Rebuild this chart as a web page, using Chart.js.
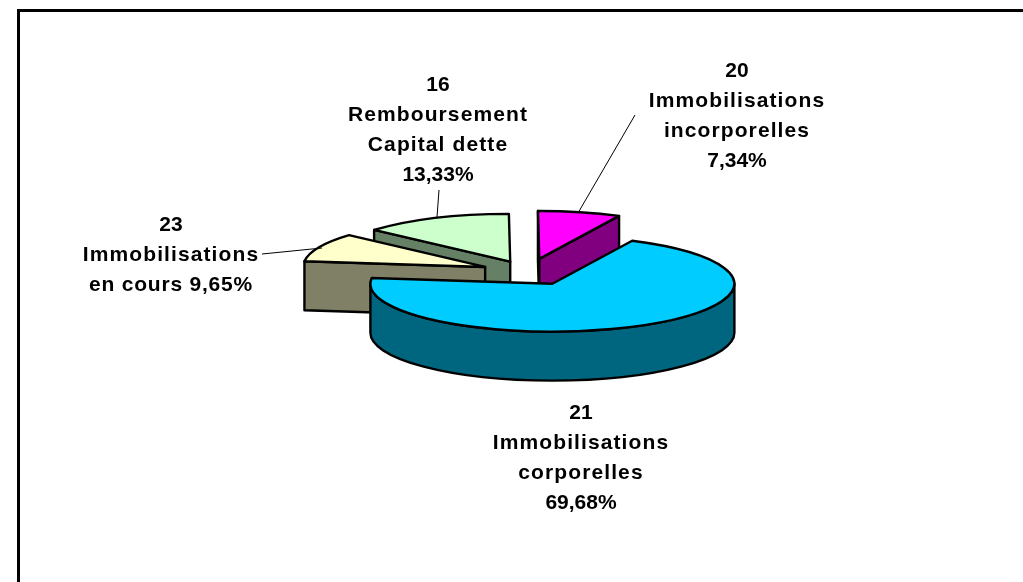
<!DOCTYPE html>
<html>
<head>
<meta charset="utf-8">
<style>html,body{margin:0;padding:0;background:#fff}canvas{display:block}</style>
<script src="https://cdn.jsdelivr.net/npm/chart.js@4"></script>
</head>
<body>
<canvas id="c" width="1023" height="582"></canvas>
<script>
// Data
const codes = ['21', '23', '16', '20'];
const names = [['Immobilisations', 'corporelles'], ['Immobilisations', 'en cours'], ['Remboursement', 'Capital dette'], ['Immobilisations', 'incorporelles']];
const percents = [69.68, 9.65, 13.33, 7.34];

// Styles
const topColors = ['#00CCFF', '#FFFFCC', '#CCFFCC', '#FF00FF'];
const wallColors = ['#006680', '#808066', '#668066', '#800080'];
const explode = [51, 47, 43, 51];
const paintOrder = [2, 3, 1, 0];
const tilt = 0.263, depth = 49, pieRadius = 182;

// Label layout
const labelAnchors = [[581, 413], [171, 225], [438, 85], [737, 71]];
const lineGap = 30;
const leaders = [null, [[262, 254], [322, 248]], [[439, 190], [437, 217]], [[635, 115], [578, 213]]];
const fmt = v => v.toFixed(2).replace('.', ',') + '%';

const pie3d = {
  id: 'pie3d',
  beforeDraw(chart) {
    const ctx = chart.ctx;
    ctx.save();
    ctx.fillStyle = '#fff';
    ctx.fillRect(0, 0, chart.width, chart.height);
    ctx.fillStyle = '#000';
    ctx.fillRect(17, 9, chart.width - 17, 3);
    ctx.fillRect(17, 9, 3, chart.height - 9);
    ctx.restore();
  },
  beforeDatasetsDraw(chart) {
    const ctx = chart.ctx;
    const arcs = chart.getDatasetMeta(0).data;
    ctx.save();
    ctx.lineWidth = 2.4;
    ctx.lineJoin = 'round';
    ctx.strokeStyle = '#000';
    for (const i of paintOrder) {
      const el = arcs[i];
      const a = el.startAngle, b = el.endAngle, r = el.outerRadius;
      const m = (a + b) / 2;
      const ex = explode[i] * Math.cos(m), ey = explode[i] * Math.sin(m);
      const x = el.x + ex, y = el.y + tilt * ey;
      const ry = r * tilt;
      const pt = t => [x + r * Math.cos(t), y + ry * Math.sin(t)];
      ctx.fillStyle = wallColors[i];
      const quad = t => {
        const p = pt(t);
        ctx.beginPath();
        ctx.moveTo(x, y); ctx.lineTo(p[0], p[1]);
        ctx.lineTo(p[0], p[1] + depth); ctx.lineTo(x, y + depth);
        ctx.closePath(); ctx.fill(); ctx.stroke();
      };
      if (Math.sin(a - Math.PI / 2) > 0) quad(a);
      if (Math.sin(b + Math.PI / 2) > 0) quad(b);
      for (const k of [0, 2]) {
        const t0 = Math.max(a, k * Math.PI), t1 = Math.min(b, (k + 1) * Math.PI);
        if (t1 > t0) {
          const p1 = pt(t1);
          ctx.beginPath();
          ctx.ellipse(x, y, r, ry, 0, t0, t1);
          ctx.lineTo(p1[0], p1[1] + depth);
          ctx.ellipse(x, y + depth, r, ry, 0, t1, t0, true);
          ctx.closePath(); ctx.fill(); ctx.stroke();
        }
      }
      // top face: the library's own arc, squashed and moved
      ctx.save();
      ctx.translate(ex, el.y + tilt * ey);
      ctx.scale(1, tilt);
      ctx.translate(0, -el.y);
      el.draw(ctx);
      ctx.restore();
      ctx.beginPath();
      ctx.moveTo(x, y);
      ctx.ellipse(x, y, r, ry, 0, a, b);
      ctx.closePath();
      ctx.stroke();
    }
    ctx.restore();
    return false;
  },
  afterDraw(chart) {
    const ctx = chart.ctx;
    ctx.save();
    ctx.strokeStyle = '#000';
    ctx.lineWidth = 1;
    leaders.forEach(l => {
      if (!l) return;
      ctx.beginPath();
      ctx.moveTo(l[0][0], l[0][1]);
      ctx.lineTo(l[1][0], l[1][1]);
      ctx.stroke();
    });
    ctx.fillStyle = '#000';
    ctx.font = 'bold 21px "Liberation Sans", Arial, sans-serif';
    ctx.textAlign = 'center';
    ctx.textBaseline = 'middle';
    codes.forEach((code, i) => {
      let lines;
      if (i === 1) lines = [code, names[i][0], names[i][1] + ' ' + fmt(percents[i])];
      else lines = [code, names[i][0], names[i][1], fmt(percents[i])];
      lines.forEach((t, j) => {
        ctx.letterSpacing = /^[\d,%]+$/.test(t) ? '0px' : (t.includes('%') ? '0.8px' : '1.1px');
        ctx.fillText(t, labelAnchors[i][0], labelAnchors[i][1] + j * lineGap);
      });
    });
    ctx.restore();
  }
};

new Chart(document.getElementById('c'), {
  type: 'pie',
  data: {
    labels: codes,
    datasets: [{ data: percents, backgroundColor: topColors, borderWidth: 0 }]
  },
  options: {
    responsive: false,
    animation: false,
    rotation: 26,
    radius: pieRadius,
    layout: { padding: { left: 33, bottom: 38 } },
    plugins: { legend: { display: false }, tooltip: { enabled: false } }
  },
  plugins: [pie3d]
});
</script>
</body>
</html>
